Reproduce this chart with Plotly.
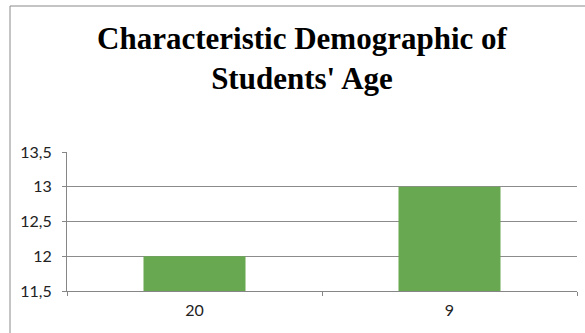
import plotly.graph_objects as go

categories = ["20", "9"]
values = [12, 13]
y_ticks = [11.5, 12, 12.5, 13, 13.5]
y_tick_labels = ["11,5", "12", "12,5", "13", "13,5"]
title_text = "Characteristic Demographic of<br>Students' Age"

L, R, T, B = 67, 8, 152, 42
W, H = 585, 333
pw, ph = W - L - R, H - T - B

fig = go.Figure()
fig.add_trace(go.Bar(
    x=categories, y=values,
    marker=dict(color="#68A850", line=dict(width=0)),
))

fig.update_layout(
    width=W, height=H,
    margin=dict(l=L, r=R, t=T, b=B),
    paper_bgcolor="white", plot_bgcolor="white",
    bargap=0.6,
    showlegend=False,
    title=dict(
        text=title_text,
        font=dict(family="Liberation Serif", size=31, color="black", weight="bold"),
        x=302 / W, xref="container", xanchor="center",
        y=(H - 49) / H, yanchor="middle", yref="container",
    ),
    xaxis=dict(
        type="category",
        showline=True, linecolor="#868686", linewidth=1,
        ticks="outside", tickson="boundaries", ticklen=4, tickcolor="#868686",
        tickfont=dict(family="Lato", size=16, color="#222"),
        ticklabelstandoff=5,
        showgrid=False,
    ),
    yaxis=dict(
        range=[11.5, 13.5],
        tickvals=y_ticks, ticktext=y_tick_labels,
        showline=True, linecolor="#868686", linewidth=1,
        ticks="outside", ticklen=4, tickcolor="#868686",
        showgrid=True, gridcolor="#8c8c8c", gridwidth=1,
        zeroline=False,
        tickfont=dict(family="Lato", size=16, color="#222"),
        ticklabelstandoff=7,
    ),
)

# chart border (Excel-like chart area frame)
fig.add_shape(
    type="rect", xref="paper", yref="paper",
    x0=(10 - L) / pw, x1=(W + 5 - L) / pw,
    y0=-(H + 5 - (T + ph)) / ph, y1=1 + (T - 6) / ph,
    line=dict(color="#8a8a8a", width=1), layer="below",
)

fig.write_html("out.html")
